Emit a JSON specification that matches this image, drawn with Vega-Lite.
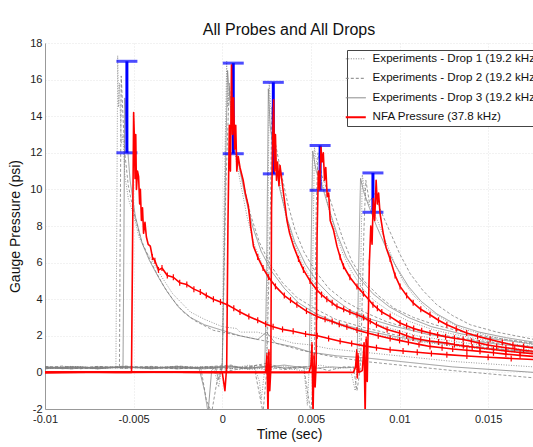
{
"$schema": "https://vega.github.io/schema/vega-lite/v6.json",
"width": 488, "height": 366,
"autosize": {"type": "none"},
"padding": {"left": 45, "top": 43, "right": 0, "bottom": 38},
"background": "white",
"config": {"view": {"stroke": null}, "font": "Liberation Sans",
 "axis": {"labelFont": "Liberation Sans", "titleFont": "Liberation Sans", "labelFontSize": 11, "titleFontSize": 14, "titleFontWeight": "normal", "labelColor": "#222", "titleColor": "#111", "gridColor": "#e4e4e4", "gridDash": [1, 2], "domainColor": "#999", "ticks": false, "labelFlush": false, "labelOverlap": false},
 "legend": {"title": null, "orient": "none", "legendX": 302, "legendY": 7, "symbolType": "stroke", "symbolSize": 400, "labelFontSize": 11.6, "labelFont": "Liberation Sans", "labelColor": "#111", "labelLimit": 0, "labelOffset": 11, "fillColor": "white", "strokeColor": "#444", "padding": 3, "rowPadding": 6.5, "symbolOpacity": 1}},
"title": {"text": "All Probes and All Drops", "fontSize": 16, "fontWeight": "normal", "color": "#111", "font": "Liberation Sans", "offset": 5, "dy": 6},
"datasets": {
"traces": [
{"s":"D1","k":"1","t":-0.0100,"p":0.30},{"s":"D1","k":"1","t":-0.0090,"p":0.22},{"s":"D1","k":"1","t":-0.0080,"p":0.32},{"s":"D1","k":"1","t":-0.0070,"p":0.20},{"s":"D1","k":"1","t":-0.0063,"p":0.30},{"s":"D1","k":"1","t":-0.0060,"p":0.25},{"s":"D1","k":"1","t":-0.00595,"p":8.0},{"s":"D1","k":"1","t":-0.0059,"p":17.3},{"s":"D1","k":"1","t":-0.00585,"p":14.5},{"s":"D1","k":"1","t":-0.0058,"p":15.8},{"s":"D1","k":"1","t":-0.0057,"p":12.5},{"s":"D1","k":"1","t":-0.0056,"p":13.0},{"s":"D1","k":"1","t":-0.0055,"p":10.8},{"s":"D1","k":"1","t":-0.0053,"p":9.5},{"s":"D1","k":"1","t":-0.0050,"p":8.6},{"s":"D1","k":"1","t":-0.0047,"p":7.4},{"s":"D1","k":"1","t":-0.0043,"p":6.6},{"s":"D1","k":"1","t":-0.0040,"p":6.2},{"s":"D1","k":"1","t":-0.0036,"p":5.5},{"s":"D1","k":"1","t":-0.0032,"p":4.9},{"s":"D1","k":"1","t":-0.0028,"p":4.3},{"s":"D1","k":"1","t":-0.0024,"p":3.9},{"s":"D1","k":"1","t":-0.0018,"p":3.3},{"s":"D1","k":"1","t":-0.0010,"p":2.9},{"s":"D1","k":"1","t":0.0,"p":2.5},{"s":"D1","k":"1","t":0.0008,"p":2.4},{"s":"D1","k":"1","t":0.0010,"p":2.2},{"s":"D1","k":"1","t":0.0020,"p":2.2},{"s":"D1","k":"1","t":0.0030,"p":1.9},{"s":"D1","k":"1","t":0.0040,"p":1.6},{"s":"D1","k":"1","t":0.0050,"p":1.5},{"s":"D1","k":"1","t":0.0060,"p":1.3},{"s":"D1","k":"1","t":0.0080,"p":1.1},{"s":"D1","k":"1","t":0.0100,"p":0.9},{"s":"D1","k":"1","t":0.0130,"p":0.6},{"s":"D1","k":"1","t":0.0176,"p":0.3},
{"s":"D1","k":"2","t":-0.0100,"p":0.25},{"s":"D1","k":"2","t":-0.0085,"p":0.33},{"s":"D1","k":"2","t":-0.0070,"p":0.2},{"s":"D1","k":"2","t":-0.0055,"p":0.3},{"s":"D1","k":"2","t":-0.0040,"p":0.22},{"s":"D1","k":"2","t":-0.0025,"p":0.32},{"s":"D1","k":"2","t":-0.0012,"p":0.25},{"s":"D1","k":"2","t":-0.0005,"p":0.3},{"s":"D1","k":"2","t":-0.0002,"p":-0.8},{"s":"D1","k":"2","t":0.0,"p":0.4},{"s":"D1","k":"2","t":0.0001,"p":9.0},{"s":"D1","k":"2","t":0.00025,"p":17.0},{"s":"D1","k":"2","t":0.0003,"p":14.5},{"s":"D1","k":"2","t":0.0004,"p":15.5},{"s":"D1","k":"2","t":0.0006,"p":12.8},{"s":"D1","k":"2","t":0.0008,"p":11.5},{"s":"D1","k":"2","t":0.0011,"p":10.0},{"s":"D1","k":"2","t":0.0014,"p":8.5},{"s":"D1","k":"2","t":0.0018,"p":7.0},{"s":"D1","k":"2","t":0.0023,"p":5.8},{"s":"D1","k":"2","t":0.0028,"p":5.0},{"s":"D1","k":"2","t":0.0035,"p":4.2},{"s":"D1","k":"2","t":0.0043,"p":3.6},{"s":"D1","k":"2","t":0.0052,"p":3.1},{"s":"D1","k":"2","t":0.0062,"p":2.7},{"s":"D1","k":"2","t":0.0075,"p":2.3},{"s":"D1","k":"2","t":0.0090,"p":2.0},{"s":"D1","k":"2","t":0.0110,"p":1.7},{"s":"D1","k":"2","t":0.0130,"p":1.45},{"s":"D1","k":"2","t":0.0150,"p":1.25},{"s":"D1","k":"2","t":0.0176,"p":1.0},
{"s":"D1","k":"3","t":-0.0100,"p":0.2},{"s":"D1","k":"3","t":-0.0085,"p":0.3},{"s":"D1","k":"3","t":-0.0070,"p":0.22},{"s":"D1","k":"3","t":-0.0055,"p":0.3},{"s":"D1","k":"3","t":-0.0040,"p":0.25},{"s":"D1","k":"3","t":-0.0025,"p":0.33},{"s":"D1","k":"3","t":-0.0010,"p":0.2},{"s":"D1","k":"3","t":0.0,"p":0.3},{"s":"D1","k":"3","t":0.0010,"p":0.15},{"s":"D1","k":"3","t":0.0018,"p":0.35},{"s":"D1","k":"3","t":0.0021,"p":-0.5},{"s":"D1","k":"3","t":0.0022,"p":-1.5},{"s":"D1","k":"3","t":0.0024,"p":0.2},{"s":"D1","k":"3","t":0.0025,"p":0.3},{"s":"D1","k":"3","t":0.00258,"p":8.0},{"s":"D1","k":"3","t":0.00265,"p":15.8},{"s":"D1","k":"3","t":0.0028,"p":13.5},{"s":"D1","k":"3","t":0.0030,"p":12.0},{"s":"D1","k":"3","t":0.0033,"p":10.0},{"s":"D1","k":"3","t":0.0036,"p":8.5},{"s":"D1","k":"3","t":0.0040,"p":7.2},{"s":"D1","k":"3","t":0.0045,"p":6.0},{"s":"D1","k":"3","t":0.0050,"p":5.1},{"s":"D1","k":"3","t":0.0057,"p":4.3},{"s":"D1","k":"3","t":0.0065,"p":3.6},{"s":"D1","k":"3","t":0.0075,"p":3.1},{"s":"D1","k":"3","t":0.0085,"p":2.7},{"s":"D1","k":"3","t":0.0095,"p":2.4},{"s":"D1","k":"3","t":0.0110,"p":2.0},{"s":"D1","k":"3","t":0.0130,"p":1.7},{"s":"D1","k":"3","t":0.0150,"p":1.45},{"s":"D1","k":"3","t":0.0176,"p":1.2},
{"s":"D1","k":"4","t":-0.0100,"p":0.28},{"s":"D1","k":"4","t":-0.0085,"p":0.2},{"s":"D1","k":"4","t":-0.0070,"p":0.3},{"s":"D1","k":"4","t":-0.0055,"p":0.22},{"s":"D1","k":"4","t":-0.0040,"p":0.3},{"s":"D1","k":"4","t":-0.0025,"p":0.25},{"s":"D1","k":"4","t":-0.0010,"p":0.32},{"s":"D1","k":"4","t":0.0005,"p":0.2},{"s":"D1","k":"4","t":0.0015,"p":0.4},{"s":"D1","k":"4","t":0.0025,"p":0.1},{"s":"D1","k":"4","t":0.0035,"p":0.35},{"s":"D1","k":"4","t":0.0042,"p":0.2},{"s":"D1","k":"4","t":0.0046,"p":0.3},{"s":"D1","k":"4","t":0.0048,"p":-1.8},{"s":"D1","k":"4","t":0.0049,"p":0.2},{"s":"D1","k":"4","t":0.0050,"p":0.3},{"s":"D1","k":"4","t":0.00512,"p":7.0},{"s":"D1","k":"4","t":0.0052,"p":12.3},{"s":"D1","k":"4","t":0.0054,"p":11.0},{"s":"D1","k":"4","t":0.0057,"p":10.2},{"s":"D1","k":"4","t":0.0060,"p":9.0},{"s":"D1","k":"4","t":0.0064,"p":7.6},{"s":"D1","k":"4","t":0.0068,"p":6.5},{"s":"D1","k":"4","t":0.0073,"p":5.5},{"s":"D1","k":"4","t":0.0079,"p":4.6},{"s":"D1","k":"4","t":0.0086,"p":3.9},{"s":"D1","k":"4","t":0.0095,"p":3.3},{"s":"D1","k":"4","t":0.0105,"p":2.8},{"s":"D1","k":"4","t":0.0120,"p":2.3},{"s":"D1","k":"4","t":0.0140,"p":1.9},{"s":"D1","k":"4","t":0.0160,"p":1.6},{"s":"D1","k":"4","t":0.0176,"p":1.4},
{"s":"D1","k":"5","t":-0.0100,"p":0.22},{"s":"D1","k":"5","t":-0.0085,"p":0.3},{"s":"D1","k":"5","t":-0.0070,"p":0.25},{"s":"D1","k":"5","t":-0.0055,"p":0.32},{"s":"D1","k":"5","t":-0.0040,"p":0.2},{"s":"D1","k":"5","t":-0.0025,"p":0.3},{"s":"D1","k":"5","t":-0.0010,"p":0.25},{"s":"D1","k":"5","t":0.0005,"p":0.35},{"s":"D1","k":"5","t":0.0015,"p":0.15},{"s":"D1","k":"5","t":0.0030,"p":0.3},{"s":"D1","k":"5","t":0.0045,"p":0.1},{"s":"D1","k":"5","t":0.0055,"p":0.4},{"s":"D1","k":"5","t":0.0065,"p":0.2},{"s":"D1","k":"5","t":0.0072,"p":0.3},{"s":"D1","k":"5","t":0.0075,"p":-1.0},{"s":"D1","k":"5","t":0.0076,"p":0.3},{"s":"D1","k":"5","t":0.0077,"p":0.3},{"s":"D1","k":"5","t":0.00782,"p":6.0},{"s":"D1","k":"5","t":0.0079,"p":10.8},{"s":"D1","k":"5","t":0.0081,"p":9.5},{"s":"D1","k":"5","t":0.0084,"p":9.0},{"s":"D1","k":"5","t":0.0088,"p":8.2},{"s":"D1","k":"5","t":0.0092,"p":7.2},{"s":"D1","k":"5","t":0.0097,"p":6.0},{"s":"D1","k":"5","t":0.0102,"p":5.0},{"s":"D1","k":"5","t":0.0108,"p":4.2},{"s":"D1","k":"5","t":0.0115,"p":3.5},{"s":"D1","k":"5","t":0.0125,"p":2.9},{"s":"D1","k":"5","t":0.0135,"p":2.4},{"s":"D1","k":"5","t":0.0150,"p":2.0},{"s":"D1","k":"5","t":0.0165,"p":1.7},{"s":"D1","k":"5","t":0.0176,"p":1.5},
{"s":"D2","k":"1","t":-0.0100,"p":0.25},{"s":"D2","k":"1","t":-0.0090,"p":0.35},{"s":"D2","k":"1","t":-0.0080,"p":0.2},{"s":"D2","k":"1","t":-0.0070,"p":0.3},{"s":"D2","k":"1","t":-0.0060,"p":0.25},{"s":"D2","k":"1","t":-0.0058,"p":0.3},{"s":"D2","k":"1","t":-0.00575,"p":9.0},{"s":"D2","k":"1","t":-0.0057,"p":16.2},{"s":"D2","k":"1","t":-0.0056,"p":14.0},{"s":"D2","k":"1","t":-0.0055,"p":12.0},{"s":"D2","k":"1","t":-0.0053,"p":10.2},{"s":"D2","k":"1","t":-0.0050,"p":8.8},{"s":"D2","k":"1","t":-0.0046,"p":7.3},{"s":"D2","k":"1","t":-0.0042,"p":6.4},{"s":"D2","k":"1","t":-0.0038,"p":5.6},{"s":"D2","k":"1","t":-0.0033,"p":4.7},{"s":"D2","k":"1","t":-0.0028,"p":4.0},{"s":"D2","k":"1","t":-0.0022,"p":3.3},{"s":"D2","k":"1","t":-0.0015,"p":2.8},{"s":"D2","k":"1","t":-0.0005,"p":2.3},{"s":"D2","k":"1","t":0.0005,"p":2.1},{"s":"D2","k":"1","t":0.0015,"p":1.9},{"s":"D2","k":"1","t":0.0030,"p":1.6},{"s":"D2","k":"1","t":0.0045,"p":1.2},{"s":"D2","k":"1","t":0.0060,"p":0.9},{"s":"D2","k":"1","t":0.0080,"p":0.6},{"s":"D2","k":"1","t":0.0100,"p":0.4},{"s":"D2","k":"1","t":0.0130,"p":0.1},{"s":"D2","k":"1","t":0.0176,"p":-0.3},
{"s":"D2","k":"2","t":-0.0100,"p":0.3},{"s":"D2","k":"2","t":-0.0085,"p":0.2},{"s":"D2","k":"2","t":-0.0070,"p":0.33},{"s":"D2","k":"2","t":-0.0055,"p":0.22},{"s":"D2","k":"2","t":-0.0040,"p":0.3},{"s":"D2","k":"2","t":-0.0025,"p":0.25},{"s":"D2","k":"2","t":-0.0012,"p":0.2},{"s":"D2","k":"2","t":-0.0009,"p":-1.5},{"s":"D2","k":"2","t":-0.0006,"p":-2.2},{"s":"D2","k":"2","t":-0.0003,"p":-0.5},{"s":"D2","k":"2","t":0.0,"p":0.5},{"s":"D2","k":"2","t":0.0002,"p":10.0},{"s":"D2","k":"2","t":0.0004,"p":15.8},{"s":"D2","k":"2","t":0.0006,"p":13.0},{"s":"D2","k":"2","t":0.0009,"p":11.6},{"s":"D2","k":"2","t":0.0012,"p":10.3},{"s":"D2","k":"2","t":0.0016,"p":8.6},{"s":"D2","k":"2","t":0.0021,"p":7.1},{"s":"D2","k":"2","t":0.0027,"p":5.9},{"s":"D2","k":"2","t":0.0034,"p":4.9},{"s":"D2","k":"2","t":0.0042,"p":4.1},{"s":"D2","k":"2","t":0.0052,"p":3.5},{"s":"D2","k":"2","t":0.0064,"p":2.9},{"s":"D2","k":"2","t":0.0078,"p":2.5},{"s":"D2","k":"2","t":0.0095,"p":2.1},{"s":"D2","k":"2","t":0.0115,"p":1.75},{"s":"D2","k":"2","t":0.0135,"p":1.5},{"s":"D2","k":"2","t":0.0155,"p":1.3},{"s":"D2","k":"2","t":0.0176,"p":1.1},
{"s":"D2","k":"3","t":-0.0100,"p":0.3},{"s":"D2","k":"3","t":-0.0085,"p":0.25},{"s":"D2","k":"3","t":-0.0070,"p":0.2},{"s":"D2","k":"3","t":-0.0055,"p":0.35},{"s":"D2","k":"3","t":-0.0040,"p":0.25},{"s":"D2","k":"3","t":-0.0025,"p":0.2},{"s":"D2","k":"3","t":-0.0010,"p":0.3},{"s":"D2","k":"3","t":0.0005,"p":0.4},{"s":"D2","k":"3","t":0.0012,"p":0.2},{"s":"D2","k":"3","t":0.0018,"p":0.3},{"s":"D2","k":"3","t":0.0021,"p":-1.2},{"s":"D2","k":"3","t":0.0023,"p":-2.2},{"s":"D2","k":"3","t":0.0025,"p":0.0},{"s":"D2","k":"3","t":0.0027,"p":8.0},{"s":"D2","k":"3","t":0.0028,"p":14.5},{"s":"D2","k":"3","t":0.0030,"p":12.5},{"s":"D2","k":"3","t":0.0033,"p":11.0},{"s":"D2","k":"3","t":0.0037,"p":9.2},{"s":"D2","k":"3","t":0.0041,"p":7.8},{"s":"D2","k":"3","t":0.0046,"p":6.6},{"s":"D2","k":"3","t":0.0052,"p":5.6},{"s":"D2","k":"3","t":0.0060,"p":4.6},{"s":"D2","k":"3","t":0.0069,"p":3.9},{"s":"D2","k":"3","t":0.0080,"p":3.3},{"s":"D2","k":"3","t":0.0092,"p":2.8},{"s":"D2","k":"3","t":0.0105,"p":2.4},{"s":"D2","k":"3","t":0.0120,"p":2.1},{"s":"D2","k":"3","t":0.0140,"p":1.8},{"s":"D2","k":"3","t":0.0160,"p":1.55},{"s":"D2","k":"3","t":0.0176,"p":1.4},
{"s":"D2","k":"4","t":-0.0100,"p":0.2},{"s":"D2","k":"4","t":-0.0085,"p":0.3},{"s":"D2","k":"4","t":-0.0070,"p":0.25},{"s":"D2","k":"4","t":-0.0055,"p":0.3},{"s":"D2","k":"4","t":-0.0040,"p":0.22},{"s":"D2","k":"4","t":-0.0025,"p":0.35},{"s":"D2","k":"4","t":-0.0010,"p":0.25},{"s":"D2","k":"4","t":0.0005,"p":0.1},{"s":"D2","k":"4","t":0.0015,"p":0.3},{"s":"D2","k":"4","t":0.0025,"p":0.5},{"s":"D2","k":"4","t":0.0035,"p":0.2},{"s":"D2","k":"4","t":0.0043,"p":0.3},{"s":"D2","k":"4","t":0.0046,"p":0.3},{"s":"D2","k":"4","t":0.0048,"p":-1.0},{"s":"D2","k":"4","t":0.0050,"p":-2.2},{"s":"D2","k":"4","t":0.0052,"p":0.5},{"s":"D2","k":"4","t":0.0053,"p":9.0},{"s":"D2","k":"4","t":0.0054,"p":12.0},{"s":"D2","k":"4","t":0.0056,"p":10.8},{"s":"D2","k":"4","t":0.0059,"p":10.0},{"s":"D2","k":"4","t":0.0063,"p":8.8},{"s":"D2","k":"4","t":0.0068,"p":7.3},{"s":"D2","k":"4","t":0.0073,"p":6.1},{"s":"D2","k":"4","t":0.0080,"p":5.0},{"s":"D2","k":"4","t":0.0088,"p":4.2},{"s":"D2","k":"4","t":0.0097,"p":3.5},{"s":"D2","k":"4","t":0.0108,"p":3.0},{"s":"D2","k":"4","t":0.0120,"p":2.6},{"s":"D2","k":"4","t":0.0140,"p":2.1},{"s":"D2","k":"4","t":0.0160,"p":1.8},{"s":"D2","k":"4","t":0.0176,"p":1.6},
{"s":"D2","k":"5","t":-0.0100,"p":0.3},{"s":"D2","k":"5","t":-0.0085,"p":0.22},{"s":"D2","k":"5","t":-0.0070,"p":0.3},{"s":"D2","k":"5","t":-0.0055,"p":0.25},{"s":"D2","k":"5","t":-0.0040,"p":0.33},{"s":"D2","k":"5","t":-0.0025,"p":0.2},{"s":"D2","k":"5","t":-0.0010,"p":0.3},{"s":"D2","k":"5","t":0.0005,"p":0.2},{"s":"D2","k":"5","t":0.0020,"p":0.4},{"s":"D2","k":"5","t":0.0035,"p":0.15},{"s":"D2","k":"5","t":0.0050,"p":0.35},{"s":"D2","k":"5","t":0.0060,"p":0.1},{"s":"D2","k":"5","t":0.0068,"p":0.3},{"s":"D2","k":"5","t":0.0074,"p":0.3},{"s":"D2","k":"5","t":0.0076,"p":-1.0},{"s":"D2","k":"5","t":0.0078,"p":0.3},{"s":"D2","k":"5","t":0.0080,"p":8.0},{"s":"D2","k":"5","t":0.0081,"p":10.5},{"s":"D2","k":"5","t":0.0083,"p":9.3},{"s":"D2","k":"5","t":0.0086,"p":9.8},{"s":"D2","k":"5","t":0.0090,"p":8.7},{"s":"D2","k":"5","t":0.0095,"p":7.6},{"s":"D2","k":"5","t":0.0100,"p":6.5},{"s":"D2","k":"5","t":0.0106,"p":5.4},{"s":"D2","k":"5","t":0.0113,"p":4.5},{"s":"D2","k":"5","t":0.0121,"p":3.7},{"s":"D2","k":"5","t":0.0130,"p":3.1},{"s":"D2","k":"5","t":0.0140,"p":2.6},{"s":"D2","k":"5","t":0.0155,"p":2.2},{"s":"D2","k":"5","t":0.0176,"p":1.8},
{"s":"D3","k":"1","t":-0.0100,"p":0.3},{"s":"D3","k":"1","t":-0.0090,"p":0.2},{"s":"D3","k":"1","t":-0.0080,"p":0.3},{"s":"D3","k":"1","t":-0.0070,"p":0.25},{"s":"D3","k":"1","t":-0.0060,"p":0.3},{"s":"D3","k":"1","t":-0.0056,"p":0.25},{"s":"D3","k":"1","t":-0.00555,"p":7.0},{"s":"D3","k":"1","t":-0.0055,"p":15.0},{"s":"D3","k":"1","t":-0.0054,"p":13.0},{"s":"D3","k":"1","t":-0.0052,"p":10.5},{"s":"D3","k":"1","t":-0.0049,"p":8.5},{"s":"D3","k":"1","t":-0.0045,"p":7.0},{"s":"D3","k":"1","t":-0.0041,"p":6.1},{"s":"D3","k":"1","t":-0.0036,"p":5.2},{"s":"D3","k":"1","t":-0.0031,"p":4.4},{"s":"D3","k":"1","t":-0.0025,"p":3.6},{"s":"D3","k":"1","t":-0.0018,"p":3.0},{"s":"D3","k":"1","t":-0.0010,"p":2.6},{"s":"D3","k":"1","t":0.0,"p":2.3},{"s":"D3","k":"1","t":0.0010,"p":2.0},{"s":"D3","k":"1","t":0.0020,"p":1.8},{"s":"D3","k":"1","t":0.0025,"p":2.2},{"s":"D3","k":"1","t":0.0030,"p":1.6},{"s":"D3","k":"1","t":0.0040,"p":1.4},{"s":"D3","k":"1","t":0.0050,"p":1.1},{"s":"D3","k":"1","t":0.0065,"p":0.9},{"s":"D3","k":"1","t":0.0080,"p":0.8},{"s":"D3","k":"1","t":0.0100,"p":0.6},{"s":"D3","k":"1","t":0.0130,"p":0.3},{"s":"D3","k":"1","t":0.0176,"p":0.0},
{"s":"D3","k":"2","t":-0.0100,"p":0.25},{"s":"D3","k":"2","t":-0.0085,"p":0.3},{"s":"D3","k":"2","t":-0.0070,"p":0.2},{"s":"D3","k":"2","t":-0.0055,"p":0.3},{"s":"D3","k":"2","t":-0.0040,"p":0.25},{"s":"D3","k":"2","t":-0.0025,"p":0.3},{"s":"D3","k":"2","t":-0.0013,"p":0.2},{"s":"D3","k":"2","t":-0.0010,"p":-1.0},{"s":"D3","k":"2","t":-0.0008,"p":-2.2},{"s":"D3","k":"2","t":-0.0006,"p":0.1},{"s":"D3","k":"2","t":-0.0004,"p":0.3},{"s":"D3","k":"2","t":-0.0002,"p":-0.4},{"s":"D3","k":"2","t":0.0,"p":0.3},{"s":"D3","k":"2","t":0.0002,"p":12.0},{"s":"D3","k":"2","t":0.0003,"p":16.5},{"s":"D3","k":"2","t":0.0005,"p":14.0},{"s":"D3","k":"2","t":0.0007,"p":12.5},{"s":"D3","k":"2","t":0.0010,"p":11.0},{"s":"D3","k":"2","t":0.0013,"p":9.6},{"s":"D3","k":"2","t":0.0017,"p":8.0},{"s":"D3","k":"2","t":0.0022,"p":6.6},{"s":"D3","k":"2","t":0.0028,"p":5.5},{"s":"D3","k":"2","t":0.0035,"p":4.6},{"s":"D3","k":"2","t":0.0043,"p":3.8},{"s":"D3","k":"2","t":0.0053,"p":3.2},{"s":"D3","k":"2","t":0.0065,"p":2.7},{"s":"D3","k":"2","t":0.0080,"p":2.3},{"s":"D3","k":"2","t":0.0098,"p":1.95},{"s":"D3","k":"2","t":0.0118,"p":1.65},{"s":"D3","k":"2","t":0.0140,"p":1.4},{"s":"D3","k":"2","t":0.0176,"p":1.1},
{"s":"D3","k":"3","t":-0.0100,"p":0.25},{"s":"D3","k":"3","t":-0.0085,"p":0.2},{"s":"D3","k":"3","t":-0.0070,"p":0.3},{"s":"D3","k":"3","t":-0.0055,"p":0.25},{"s":"D3","k":"3","t":-0.0040,"p":0.3},{"s":"D3","k":"3","t":-0.0025,"p":0.2},{"s":"D3","k":"3","t":-0.0010,"p":0.28},{"s":"D3","k":"3","t":0.0005,"p":0.35},{"s":"D3","k":"3","t":0.0015,"p":0.2},{"s":"D3","k":"3","t":0.0020,"p":0.3},{"s":"D3","k":"3","t":0.0024,"p":0.3},{"s":"D3","k":"3","t":0.0025,"p":5.0},{"s":"D3","k":"3","t":0.0026,"p":15.5},{"s":"D3","k":"3","t":0.0027,"p":13.5},{"s":"D3","k":"3","t":0.0029,"p":12.0},{"s":"D3","k":"3","t":0.0032,"p":10.2},{"s":"D3","k":"3","t":0.0036,"p":8.6},{"s":"D3","k":"3","t":0.0041,"p":7.1},{"s":"D3","k":"3","t":0.0047,"p":5.9},{"s":"D3","k":"3","t":0.0054,"p":4.9},{"s":"D3","k":"3","t":0.0062,"p":4.1},{"s":"D3","k":"3","t":0.0072,"p":3.4},{"s":"D3","k":"3","t":0.0084,"p":2.9},{"s":"D3","k":"3","t":0.0098,"p":2.5},{"s":"D3","k":"3","t":0.0115,"p":2.1},{"s":"D3","k":"3","t":0.0135,"p":1.8},{"s":"D3","k":"3","t":0.0155,"p":1.55},{"s":"D3","k":"3","t":0.0176,"p":1.35},
{"s":"D3","k":"4","t":-0.0100,"p":0.3},{"s":"D3","k":"4","t":-0.0085,"p":0.25},{"s":"D3","k":"4","t":-0.0070,"p":0.22},{"s":"D3","k":"4","t":-0.0055,"p":0.3},{"s":"D3","k":"4","t":-0.0040,"p":0.2},{"s":"D3","k":"4","t":-0.0025,"p":0.3},{"s":"D3","k":"4","t":-0.0010,"p":0.25},{"s":"D3","k":"4","t":0.0005,"p":0.3},{"s":"D3","k":"4","t":0.0015,"p":0.2},{"s":"D3","k":"4","t":0.0025,"p":0.35},{"s":"D3","k":"4","t":0.0035,"p":0.25},{"s":"D3","k":"4","t":0.0043,"p":0.3},{"s":"D3","k":"4","t":0.0049,"p":0.3},{"s":"D3","k":"4","t":0.0050,"p":6.0},{"s":"D3","k":"4","t":0.0051,"p":12.1},{"s":"D3","k":"4","t":0.0053,"p":11.0},{"s":"D3","k":"4","t":0.0056,"p":10.3},{"s":"D3","k":"4","t":0.0060,"p":9.0},{"s":"D3","k":"4","t":0.0065,"p":7.5},{"s":"D3","k":"4","t":0.0070,"p":6.3},{"s":"D3","k":"4","t":0.0077,"p":5.2},{"s":"D3","k":"4","t":0.0085,"p":4.3},{"s":"D3","k":"4","t":0.0094,"p":3.6},{"s":"D3","k":"4","t":0.0105,"p":3.0},{"s":"D3","k":"4","t":0.0118,"p":2.5},{"s":"D3","k":"4","t":0.0135,"p":2.1},{"s":"D3","k":"4","t":0.0155,"p":1.8},{"s":"D3","k":"4","t":0.0176,"p":1.55},
{"s":"D3","k":"5","t":-0.0100,"p":0.2},{"s":"D3","k":"5","t":-0.0085,"p":0.3},{"s":"D3","k":"5","t":-0.0070,"p":0.25},{"s":"D3","k":"5","t":-0.0055,"p":0.3},{"s":"D3","k":"5","t":-0.0040,"p":0.25},{"s":"D3","k":"5","t":-0.0025,"p":0.3},{"s":"D3","k":"5","t":-0.0010,"p":0.2},{"s":"D3","k":"5","t":0.0005,"p":0.3},{"s":"D3","k":"5","t":0.0020,"p":0.25},{"s":"D3","k":"5","t":0.0035,"p":0.4},{"s":"D3","k":"5","t":0.0050,"p":0.2},{"s":"D3","k":"5","t":0.0062,"p":0.3},{"s":"D3","k":"5","t":0.0070,"p":0.25},{"s":"D3","k":"5","t":0.0076,"p":0.3},{"s":"D3","k":"5","t":0.0077,"p":6.0},{"s":"D3","k":"5","t":0.0078,"p":10.6},{"s":"D3","k":"5","t":0.0080,"p":9.8},{"s":"D3","k":"5","t":0.0083,"p":9.0},{"s":"D3","k":"5","t":0.0087,"p":8.0},{"s":"D3","k":"5","t":0.0092,"p":6.9},{"s":"D3","k":"5","t":0.0098,"p":5.8},{"s":"D3","k":"5","t":0.0105,"p":4.7},{"s":"D3","k":"5","t":0.0112,"p":3.9},{"s":"D3","k":"5","t":0.0121,"p":3.2},{"s":"D3","k":"5","t":0.0132,"p":2.6},{"s":"D3","k":"5","t":0.0145,"p":2.2},{"s":"D3","k":"5","t":0.0160,"p":1.9},{"s":"D3","k":"5","t":0.0176,"p":1.65},
{"s":"NFA","k":"1","t":-0.0100,"p":0.0},{"s":"NFA","k":"1","t":-0.0080,"p":0.02},{"s":"NFA","k":"1","t":-0.0060,"p":0.0},{"s":"NFA","k":"1","t":-0.00512,"p":0.0},{"s":"NFA","k":"1","t":-0.00506,"p":7.0},{"s":"NFA","k":"1","t":-0.00500,"p":14.2},{"s":"NFA","k":"1","t":-0.00496,"p":12.9},{"s":"NFA","k":"1","t":-0.00492,"p":10.6},{"s":"NFA","k":"1","t":-0.00488,"p":13.0},{"s":"NFA","k":"1","t":-0.00484,"p":10.0},{"s":"NFA","k":"1","t":-0.00478,"p":11.0},{"s":"NFA","k":"1","t":-0.00472,"p":10.7},{"s":"NFA","k":"1","t":-0.00466,"p":9.2},{"s":"NFA","k":"1","t":-0.00462,"p":10.0},{"s":"NFA","k":"1","t":-0.00456,"p":8.3},{"s":"NFA","k":"1","t":-0.00450,"p":9.0},{"s":"NFA","k":"1","t":-0.00444,"p":7.6},{"s":"NFA","k":"1","t":-0.00436,"p":8.2},{"s":"NFA","k":"1","t":-0.00428,"p":7.4},{"s":"NFA","k":"1","t":-0.00418,"p":7.0},{"s":"NFA","k":"1","t":-0.00406,"p":6.9},{"s":"NFA","k":"1","t":-0.00394,"p":6.3},{"s":"NFA","k":"1","t":-0.00380,"p":6.1},{"s":"NFA","k":"1","t":-0.00360,"p":5.6},{"s":"NFA","k":"1","t":-0.00340,"p":5.7},{"s":"NFA","k":"1","t":-0.00310,"p":5.3},{"s":"NFA","k":"1","t":-0.00276,"p":5.2},{"s":"NFA","k":"1","t":-0.00240,"p":4.9},{"s":"NFA","k":"1","t":-0.00200,"p":4.8},{"s":"NFA","k":"1","t":-0.00160,"p":4.55},{"s":"NFA","k":"1","t":-0.00124,"p":4.4},{"s":"NFA","k":"1","t":-0.00090,"p":4.2},{"s":"NFA","k":"1","t":-0.00050,"p":4.0},{"s":"NFA","k":"1","t":-0.00010,"p":3.85},{"s":"NFA","k":"1","t":0.00028,"p":3.7},{"s":"NFA","k":"1","t":0.00065,"p":3.5},{"s":"NFA","k":"1","t":0.0010,"p":3.3},{"s":"NFA","k":"1","t":0.0015,"p":3.05},{"s":"NFA","k":"1","t":0.0020,"p":2.85},{"s":"NFA","k":"1","t":0.00245,"p":2.65},{"s":"NFA","k":"1","t":0.00287,"p":2.5},{"s":"NFA","k":"1","t":0.0034,"p":2.35},{"s":"NFA","k":"1","t":0.0040,"p":2.25},{"s":"NFA","k":"1","t":0.0047,"p":2.1},{"s":"NFA","k":"1","t":0.00536,"p":2.0},{"s":"NFA","k":"1","t":0.0060,"p":1.85},{"s":"NFA","k":"1","t":0.00665,"p":1.7},{"s":"NFA","k":"1","t":0.0073,"p":1.58},{"s":"NFA","k":"1","t":0.0080,"p":1.45},{"s":"NFA","k":"1","t":0.0087,"p":1.35},{"s":"NFA","k":"1","t":0.00947,"p":1.24},{"s":"NFA","k":"1","t":0.0102,"p":1.17},{"s":"NFA","k":"1","t":0.0110,"p":1.1},{"s":"NFA","k":"1","t":0.0118,"p":1.03},{"s":"NFA","k":"1","t":0.01267,"p":0.97},{"s":"NFA","k":"1","t":0.0138,"p":0.9},{"s":"NFA","k":"1","t":0.0150,"p":0.83},{"s":"NFA","k":"1","t":0.0163,"p":0.76},{"s":"NFA","k":"1","t":0.0176,"p":0.7},
{"s":"NFA","k":"2","t":-0.0100,"p":0.0},{"s":"NFA","k":"2","t":-0.0060,"p":0.02},{"s":"NFA","k":"2","t":-0.0020,"p":0.0},{"s":"NFA","k":"2","t":0.0,"p":0.0},{"s":"NFA","k":"2","t":0.00015,"p":-1.0},{"s":"NFA","k":"2","t":0.00025,"p":0.3},{"s":"NFA","k":"2","t":0.00032,"p":8.0},{"s":"NFA","k":"2","t":0.00040,"p":13.5},{"s":"NFA","k":"2","t":0.00046,"p":11.0},{"s":"NFA","k":"2","t":0.00052,"p":16.8},{"s":"NFA","k":"2","t":0.00058,"p":13.0},{"s":"NFA","k":"2","t":0.00064,"p":15.0},{"s":"NFA","k":"2","t":0.00070,"p":12.2},{"s":"NFA","k":"2","t":0.00076,"p":13.5},{"s":"NFA","k":"2","t":0.00082,"p":11.0},{"s":"NFA","k":"2","t":0.00090,"p":11.8},{"s":"NFA","k":"2","t":0.00100,"p":11.2},{"s":"NFA","k":"2","t":0.00118,"p":10.5},{"s":"NFA","k":"2","t":0.00130,"p":9.8},{"s":"NFA","k":"2","t":0.00147,"p":9.1},{"s":"NFA","k":"2","t":0.00160,"p":8.0},{"s":"NFA","k":"2","t":0.00176,"p":6.9},{"s":"NFA","k":"2","t":0.00200,"p":6.3},{"s":"NFA","k":"2","t":0.00230,"p":5.7},{"s":"NFA","k":"2","t":0.00261,"p":5.2},{"s":"NFA","k":"2","t":0.00300,"p":4.7},{"s":"NFA","k":"2","t":0.00350,"p":4.2},{"s":"NFA","k":"2","t":0.00385,"p":3.95},{"s":"NFA","k":"2","t":0.00421,"p":3.7},{"s":"NFA","k":"2","t":0.00475,"p":3.35},{"s":"NFA","k":"2","t":0.00534,"p":3.06},{"s":"NFA","k":"2","t":0.00580,"p":2.9},{"s":"NFA","k":"2","t":0.00620,"p":2.78},{"s":"NFA","k":"2","t":0.00660,"p":2.63},{"s":"NFA","k":"2","t":0.00703,"p":2.5},{"s":"NFA","k":"2","t":0.00760,"p":2.32},{"s":"NFA","k":"2","t":0.00820,"p":2.15},{"s":"NFA","k":"2","t":0.00880,"p":2.0},{"s":"NFA","k":"2","t":0.00947,"p":1.85},{"s":"NFA","k":"2","t":0.01000,"p":1.75},{"s":"NFA","k":"2","t":0.01050,"p":1.65},{"s":"NFA","k":"2","t":0.01110,"p":1.53},{"s":"NFA","k":"2","t":0.01172,"p":1.42},{"s":"NFA","k":"2","t":0.01240,"p":1.35},{"s":"NFA","k":"2","t":0.01300,"p":1.28},{"s":"NFA","k":"2","t":0.01380,"p":1.21},{"s":"NFA","k":"2","t":0.01454,"p":1.15},{"s":"NFA","k":"2","t":0.01530,"p":1.07},{"s":"NFA","k":"2","t":0.01600,"p":1.0},{"s":"NFA","k":"2","t":0.01680,"p":0.93},{"s":"NFA","k":"2","t":0.0176,"p":0.87},
{"s":"NFA","k":"3","t":-0.0100,"p":0.0},{"s":"NFA","k":"3","t":-0.0050,"p":0.02},{"s":"NFA","k":"3","t":0.0,"p":0.0},{"s":"NFA","k":"3","t":0.00245,"p":0.0},{"s":"NFA","k":"3","t":0.00252,"p":0.9},{"s":"NFA","k":"3","t":0.00258,"p":-2.3},{"s":"NFA","k":"3","t":0.00263,"p":1.1},{"s":"NFA","k":"3","t":0.00268,"p":-1.0},{"s":"NFA","k":"3","t":0.00274,"p":0.2},{"s":"NFA","k":"3","t":0.00278,"p":9.0},{"s":"NFA","k":"3","t":0.00284,"p":12.5},{"s":"NFA","k":"3","t":0.00290,"p":14.9},{"s":"NFA","k":"3","t":0.00295,"p":11.0},{"s":"NFA","k":"3","t":0.00300,"p":13.0},{"s":"NFA","k":"3","t":0.00306,"p":10.5},{"s":"NFA","k":"3","t":0.00312,"p":11.5},{"s":"NFA","k":"3","t":0.00320,"p":10.2},{"s":"NFA","k":"3","t":0.00326,"p":11.3},{"s":"NFA","k":"3","t":0.00340,"p":10.2},{"s":"NFA","k":"3","t":0.00352,"p":9.3},{"s":"NFA","k":"3","t":0.00365,"p":8.3},{"s":"NFA","k":"3","t":0.00380,"p":7.6},{"s":"NFA","k":"3","t":0.00402,"p":6.9},{"s":"NFA","k":"3","t":0.00430,"p":6.2},{"s":"NFA","k":"3","t":0.00458,"p":5.6},{"s":"NFA","k":"3","t":0.00495,"p":5.0},{"s":"NFA","k":"3","t":0.00534,"p":4.5},{"s":"NFA","k":"3","t":0.00560,"p":4.25},{"s":"NFA","k":"3","t":0.00590,"p":4.0},{"s":"NFA","k":"3","t":0.00620,"p":3.8},{"s":"NFA","k":"3","t":0.00647,"p":3.6},{"s":"NFA","k":"3","t":0.00685,"p":3.45},{"s":"NFA","k":"3","t":0.00720,"p":3.3},{"s":"NFA","k":"3","t":0.00760,"p":3.15},{"s":"NFA","k":"3","t":0.00797,"p":3.0},{"s":"NFA","k":"3","t":0.00835,"p":2.8},{"s":"NFA","k":"3","t":0.00870,"p":2.6},{"s":"NFA","k":"3","t":0.00930,"p":2.35},{"s":"NFA","k":"3","t":0.01000,"p":2.15},{"s":"NFA","k":"3","t":0.01040,"p":2.0},{"s":"NFA","k":"3","t":0.01077,"p":1.88},{"s":"NFA","k":"3","t":0.01120,"p":1.8},{"s":"NFA","k":"3","t":0.01170,"p":1.72},{"s":"NFA","k":"3","t":0.01220,"p":1.66},{"s":"NFA","k":"3","t":0.01267,"p":1.6},{"s":"NFA","k":"3","t":0.01310,"p":1.52},{"s":"NFA","k":"3","t":0.01360,"p":1.45},{"s":"NFA","k":"3","t":0.01410,"p":1.39},{"s":"NFA","k":"3","t":0.01454,"p":1.33},{"s":"NFA","k":"3","t":0.01530,"p":1.25},{"s":"NFA","k":"3","t":0.01600,"p":1.17},{"s":"NFA","k":"3","t":0.01680,"p":1.09},{"s":"NFA","k":"3","t":0.0176,"p":1.02},
{"s":"NFA","k":"4","t":-0.0100,"p":0.0},{"s":"NFA","k":"4","t":-0.0050,"p":0.0},{"s":"NFA","k":"4","t":0.0,"p":0.02},{"s":"NFA","k":"4","t":0.0030,"p":0.0},{"s":"NFA","k":"4","t":0.00490,"p":0.0},{"s":"NFA","k":"4","t":0.00500,"p":0.4},{"s":"NFA","k":"4","t":0.00506,"p":1.5},{"s":"NFA","k":"4","t":0.00512,"p":-2.3},{"s":"NFA","k":"4","t":0.00518,"p":0.9},{"s":"NFA","k":"4","t":0.00524,"p":-0.8},{"s":"NFA","k":"4","t":0.00530,"p":0.5},{"s":"NFA","k":"4","t":0.00535,"p":7.5},{"s":"NFA","k":"4","t":0.00542,"p":11.0},{"s":"NFA","k":"4","t":0.00550,"p":10.0},{"s":"NFA","k":"4","t":0.00557,"p":12.3},{"s":"NFA","k":"4","t":0.00563,"p":11.5},{"s":"NFA","k":"4","t":0.00570,"p":12.0},{"s":"NFA","k":"4","t":0.00577,"p":10.5},{"s":"NFA","k":"4","t":0.00584,"p":11.2},{"s":"NFA","k":"4","t":0.00592,"p":9.6},{"s":"NFA","k":"4","t":0.00600,"p":9.8},{"s":"NFA","k":"4","t":0.00609,"p":8.3},{"s":"NFA","k":"4","t":0.00627,"p":7.8},{"s":"NFA","k":"4","t":0.00647,"p":6.9},{"s":"NFA","k":"4","t":0.00665,"p":6.3},{"s":"NFA","k":"4","t":0.00684,"p":5.8},{"s":"NFA","k":"4","t":0.00720,"p":5.2},{"s":"NFA","k":"4","t":0.00760,"p":4.7},{"s":"NFA","k":"4","t":0.00797,"p":4.3},{"s":"NFA","k":"4","t":0.00825,"p":4.0},{"s":"NFA","k":"4","t":0.00850,"p":3.7},{"s":"NFA","k":"4","t":0.00875,"p":3.5},{"s":"NFA","k":"4","t":0.00900,"p":3.3},{"s":"NFA","k":"4","t":0.00947,"p":3.05},{"s":"NFA","k":"4","t":0.01003,"p":2.7},{"s":"NFA","k":"4","t":0.01040,"p":2.55},{"s":"NFA","k":"4","t":0.01080,"p":2.4},{"s":"NFA","k":"4","t":0.01125,"p":2.27},{"s":"NFA","k":"4","t":0.01172,"p":2.15},{"s":"NFA","k":"4","t":0.01215,"p":2.05},{"s":"NFA","k":"4","t":0.01260,"p":1.95},{"s":"NFA","k":"4","t":0.01310,"p":1.87},{"s":"NFA","k":"4","t":0.01359,"p":1.8},{"s":"NFA","k":"4","t":0.01405,"p":1.7},{"s":"NFA","k":"4","t":0.01450,"p":1.6},{"s":"NFA","k":"4","t":0.01500,"p":1.5},{"s":"NFA","k":"4","t":0.01548,"p":1.42},{"s":"NFA","k":"4","t":0.01600,"p":1.35},{"s":"NFA","k":"4","t":0.01650,"p":1.28},{"s":"NFA","k":"4","t":0.01700,"p":1.21},{"s":"NFA","k":"4","t":0.0176,"p":1.15},
{"s":"NFA","k":"5","t":-0.0100,"p":0.0},{"s":"NFA","k":"5","t":-0.0050,"p":0.02},{"s":"NFA","k":"5","t":0.0,"p":0.0},{"s":"NFA","k":"5","t":0.0050,"p":0.0},{"s":"NFA","k":"5","t":0.00740,"p":0.0},{"s":"NFA","k":"5","t":0.00752,"p":0.3},{"s":"NFA","k":"5","t":0.00758,"p":1.1},{"s":"NFA","k":"5","t":0.00762,"p":-0.3},{"s":"NFA","k":"5","t":0.00766,"p":0.9},{"s":"NFA","k":"5","t":0.00772,"p":0.0},{"s":"NFA","k":"5","t":0.00790,"p":0.1},{"s":"NFA","k":"5","t":0.00800,"p":1.5},{"s":"NFA","k":"5","t":0.00806,"p":-2.3},{"s":"NFA","k":"5","t":0.00812,"p":1.8},{"s":"NFA","k":"5","t":0.00818,"p":-0.5},{"s":"NFA","k":"5","t":0.00824,"p":3.0},{"s":"NFA","k":"5","t":0.00830,"p":6.0},{"s":"NFA","k":"5","t":0.00838,"p":8.0},{"s":"NFA","k":"5","t":0.00845,"p":7.0},{"s":"NFA","k":"5","t":0.00852,"p":9.5},{"s":"NFA","k":"5","t":0.00860,"p":8.3},{"s":"NFA","k":"5","t":0.00868,"p":10.5},{"s":"NFA","k":"5","t":0.00875,"p":9.2},{"s":"NFA","k":"5","t":0.00882,"p":9.8},{"s":"NFA","k":"5","t":0.00890,"p":8.7},{"s":"NFA","k":"5","t":0.00898,"p":8.2},{"s":"NFA","k":"5","t":0.00908,"p":7.6},{"s":"NFA","k":"5","t":0.00925,"p":6.8},{"s":"NFA","k":"5","t":0.00947,"p":6.2},{"s":"NFA","k":"5","t":0.00975,"p":5.3},{"s":"NFA","k":"5","t":0.01003,"p":4.7},{"s":"NFA","k":"5","t":0.01040,"p":4.2},{"s":"NFA","k":"5","t":0.01077,"p":3.8},{"s":"NFA","k":"5","t":0.01120,"p":3.45},{"s":"NFA","k":"5","t":0.01172,"p":3.15},{"s":"NFA","k":"5","t":0.01220,"p":2.85},{"s":"NFA","k":"5","t":0.01267,"p":2.6},{"s":"NFA","k":"5","t":0.01320,"p":2.38},{"s":"NFA","k":"5","t":0.01379,"p":2.15},{"s":"NFA","k":"5","t":0.01440,"p":1.97},{"s":"NFA","k":"5","t":0.01511,"p":1.8},{"s":"NFA","k":"5","t":0.01580,"p":1.63},{"s":"NFA","k":"5","t":0.01640,"p":1.5},{"s":"NFA","k":"5","t":0.01700,"p":1.41},{"s":"NFA","k":"5","t":0.0176,"p":1.33}
],
"bars": [
{"t":-0.00538,"p":12.0,"p2":17.0},
{"t":0.00062,"p":11.95,"p2":16.9},
{"t":0.00288,"p":10.85,"p2":15.85},
{"t":0.00552,"p":9.95,"p2":12.4},
{"t":0.0085,"p":8.75,"p2":10.9}
]
},
"encoding": {
 "x": {"field": "t", "type": "quantitative", "title": "Time (sec)",
  "scale": {"domain": [-0.01, 0.01753], "nice": false, "zero": false},
  "axis": {"values": [-0.01, -0.005, 0, 0.005, 0.01, 0.015], "labelExpr": "'' + datum.value", "labelPadding": 4, "titlePadding": 3, "grid": true}},
 "y": {"field": "p", "type": "quantitative", "title": "Gauge Pressure (psi)",
  "scale": {"domain": [-2, 18], "nice": false, "zero": false},
  "axis": {"values": [-2, 0, 2, 4, 6, 8, 10, 12, 14, 16, 18], "labelExpr": "'' + datum.value", "labelPadding": 3, "titlePadding": 7, "grid": true}}
},
"layer": [
 {"data": {"values": [{}]}, "mark": {"type": "rule", "color": "#a0a0a0", "strokeWidth": 1}, "encoding": {"x": null, "y": {"datum": 18}}},
 {"data": {"name": "traces"}, "transform": [{"filter": "datum.s != 'NFA'"}],
  "mark": {"type": "line", "clip": true, "strokeJoin": "round", "strokeWidth": 0.8},
  "encoding": {
   "detail": {"field": "k"},
   "color": {"field": "s", "type": "nominal", "scale": {"domain": ["D1", "D2", "D3", "NFA"], "range": ["#808080", "#808080", "#808080", "#ff0000"]},
    "legend": {"symbolSize": 400, "rowPadding": 6.5, "padding": 3, "legendX": 302, "legendY": 7, "labelOffset": 11, "labelExpr": "datum.label == 'NFA' ? 'NFA Pressure (37.8 kHz)' : 'Experiments - Drop ' + substring(datum.label, 1) + ' (19.2 kHz)'",
     "encode": {"symbols": {"update": {"size": {"value": 400}, "stroke": {"signal": "datum.value == 'NFA' ? '#ff0000' : '#8c8c8c'"}, "strokeWidth": {"signal": "datum.value == 'NFA' ? 2 : 1"}, "strokeDash": {"signal": "datum.value == 'D1' ? [1, 1.5] : datum.value == 'D2' ? [3, 2] : [1, 0]"}, "opacity": {"value": 1}}}}}},
   "strokeDash": {"field": "s", "type": "nominal", "scale": {"domain": ["D1", "D2", "D3", "NFA"], "range": [[1, 1.5], [3, 2], [1, 0], [1, 0]]}, "legend": null}
  }},
 {"data": {"name": "bars"}, "mark": {"type": "rule", "color": "#0000ff", "strokeWidth": 3}, "encoding": {"y2": {"field": "p2"}}},
 {"data": {"name": "bars"}, "mark": {"type": "tick", "orient": "horizontal", "color": "#0000ff", "size": 21, "thickness": 3}},
 {"data": {"name": "bars"}, "mark": {"type": "tick", "orient": "horizontal", "color": "#0000ff", "size": 21, "thickness": 3}, "encoding": {"y": {"field": "p2", "type": "quantitative", "title": "Gauge Pressure (psi)"}}},
 {"data": {"name": "traces"}, "transform": [{"filter": "datum.s == 'NFA'"}],
  "mark": {"type": "line", "clip": true, "strokeJoin": "round", "strokeWidth": 1.6},
  "encoding": {
   "detail": {"field": "k"},
   "color": {"field": "s", "type": "nominal", "scale": {"domain": ["D1", "D2", "D3", "NFA"], "range": ["#808080", "#808080", "#808080", "#ff0000"]},
    "legend": {"symbolSize": 400, "rowPadding": 6.5, "padding": 3, "legendX": 302, "legendY": 7, "labelOffset": 11, "labelExpr": "datum.label == 'NFA' ? 'NFA Pressure (37.8 kHz)' : 'Experiments - Drop ' + substring(datum.label, 1) + ' (19.2 kHz)'",
     "encode": {"symbols": {"update": {"size": {"value": 400}, "stroke": {"signal": "datum.value == 'NFA' ? '#ff0000' : '#8c8c8c'"}, "strokeWidth": {"signal": "datum.value == 'NFA' ? 2 : 1"}, "strokeDash": {"signal": "datum.value == 'D1' ? [1, 1.5] : datum.value == 'D2' ? [3, 2] : [1, 0]"}, "opacity": {"value": 1}}}}}}
  }},
 {"data": {"name": "traces"}, "transform": [{"filter": "datum.s == 'NFA' && datum.p > 0.6 && datum.p < 6.5 && datum.t < 0.0175"}],
  "mark": {"type": "point", "shape": "M0,-1L0,1", "filled": false, "color": "#ff0000", "strokeWidth": 1.2, "size": 36, "opacity": 1, "clip": true}}
]
}
